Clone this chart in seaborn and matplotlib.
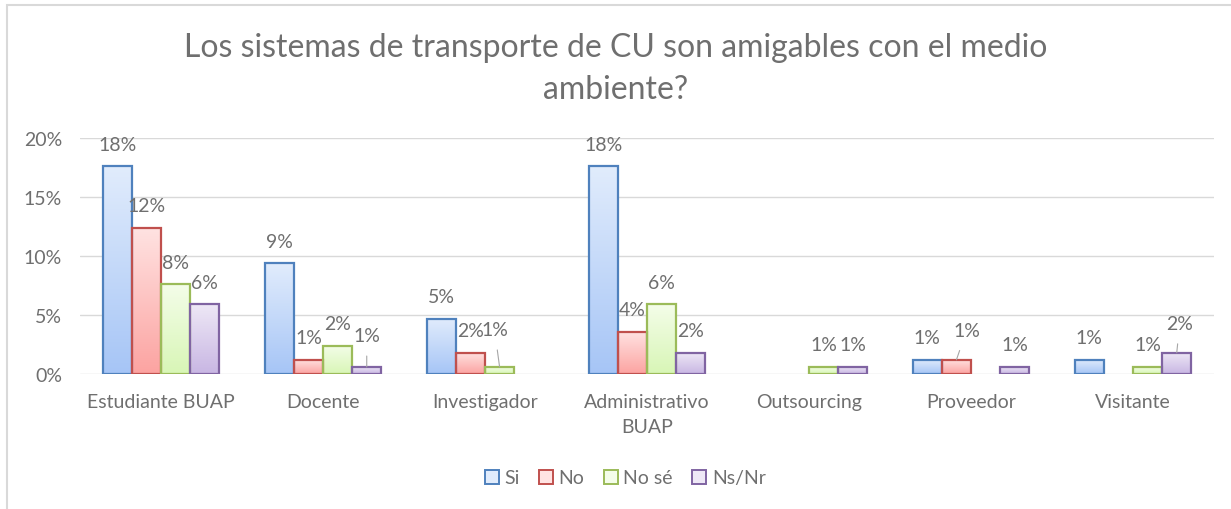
import numpy as np
import pandas as pd
import seaborn as sns
import matplotlib.pyplot as plt
from matplotlib.colors import LinearSegmentedColormap
from matplotlib.patches import Patch, Rectangle

# Data (percent of respondents)
categorias = ['Estudiante BUAP', 'Docente', 'Investigador', 'Administrativo\nBUAP',
              'Outsourcing', 'Proveedor', 'Visitante']
series = ['Si', 'No', 'No sé', 'Ns/Nr']
si = [17.6, 9.4, 4.7, 17.6, 0.0, 1.2, 1.2]
no = [12.4, 1.2, 1.8, 3.6, 0.0, 1.2, 0.0]
no_se = [7.6, 2.4, 0.6, 5.9, 0.6, 0.0, 0.6]
ns_nr = [5.9, 0.6, 0.0, 1.8, 0.6, 0.6, 1.8]
y_ticks = [0, 5, 10, 15, 20]
titulo = 'Los sistemas de transporte de CU son amigables con el medio\nambiente?'

# Excel style colours: edge, gradient top, gradient bottom
edge_colors = ['#4f81bd', '#c0504d', '#9bbb59', '#8064a2']
top_colors = ['#e1ecfc', '#ffe3e2', '#f4fde9', '#eee8f6']
bottom_colors = ['#a6c5f6', '#fca3a1', '#d8f6b6', '#c8b6e3']

# label tweaks (dx px, extra dy px) for the few labels Excel moved, with leader line
label_tweaks = {
    ('Docente', 'Ns/Nr'): (0, 9),
    ('Investigador', 'No sé'): (-5, 15),
    ('Proveedor', 'No'): (10, 7),
    ('Visitante', 'Ns/Nr'): (3, 7),
}

df = pd.DataFrame({'categoria': categorias * 4,
                   'serie': np.repeat(series, len(categorias)),
                   'valor': si + no + no_se + ns_nr})

sns.set_theme(style='white')
plt.rcParams['font.family'] = ['Lato', 'DejaVu Sans']
text_gray = '#6f6f6f'
fs = 14

fig = plt.figure(figsize=(12.31, 5.10), dpi=100)
ax = fig.add_axes([80 / 1231, 1 - 375 / 510, 1134 / 1231, 236 / 510])

sns.barplot(data=df, x='categoria', y='valor', hue='serie', order=categorias,
            hue_order=series, palette=edge_colors, width=0.72, ax=ax,
            legend=False, errorbar=None, saturation=1)

# gradient fill per bar, clipped to the bar
grad = np.linspace(0, 1, 256).reshape(-1, 1)
for i, cont in enumerate(ax.containers):
    cmap = LinearSegmentedColormap.from_list('g%d' % i, [bottom_colors[i], top_colors[i]])
    for j, bar in enumerate(cont.patches):
        h = bar.get_height()
        if h <= 0:
            bar.set_visible(False)
            continue
        bar.set_facecolor('none')
        bar.set_edgecolor(edge_colors[i])
        bar.set_linewidth(1.6)
        bar.set_zorder(3)
        x0 = bar.get_x()
        w = bar.get_width()
        im = ax.imshow(grad, extent=[x0, x0 + w, 0, h], origin='lower', cmap=cmap,
                       aspect='auto', zorder=2.5)
        im.set_clip_path(bar)

        # data label
        label = f'{h:.0f}%'
        key = (categorias[j], series[i])
        dx, extra = label_tweaks.get(key, (0, 0))
        dy = 22 + extra
        arrow = None
        if key in label_tweaks:
            arrow = dict(arrowstyle='-', color='#a6a6a6', lw=0.8, shrinkA=6, shrinkB=0)
        ax.annotate(label, xy=(x0 + w / 2, h), xytext=(dx * 0.72, dy * 0.72),
                    textcoords='offset points', ha='center', va='center',
                    fontsize=fs, color=text_gray, zorder=5, arrowprops=arrow)

ax.set_xlim(-0.5, len(categorias) - 0.5)
ax.set_ylim(0, 20)
ax.set_yticks(y_ticks)
ax.set_yticklabels([f'{t}%' for t in y_ticks])
ax.yaxis.grid(True, color='#d9d9d9', lw=1)
ax.set_axisbelow(True)
for s in ax.spines.values():
    s.set_visible(False)
ax.tick_params(axis='both', length=0, labelsize=fs, colors=text_gray)
ax.tick_params(axis='y', pad=13)
ax.tick_params(axis='x', pad=14)
for t in ax.get_xticklabels():
    t.set_linespacing(1.55)
ax.set_xlabel('')
ax.set_ylabel('')

fig.text(0.5, 1 - 69 / 510, titulo, ha='center', va='center', fontsize=23,
         color=text_gray, linespacing=1.5)

handles = [Patch(facecolor=top_colors[i], edgecolor=edge_colors[i], lw=1.4, label=s)
           for i, s in enumerate(series)]
fig.legend(handles=handles, loc='center', bbox_to_anchor=(0.508, 1 - 479 / 510), ncol=4,
           frameon=False, fontsize=fs, labelcolor=text_gray, handlelength=0.7,
           handleheight=0.7, handletextpad=0.3, columnspacing=1.0)

# light chart border like the Excel chart area
fig.patches.append(Rectangle((7 / 1231, -0.1), 1.2, 1 - 6 / 510 + 0.1,
                             transform=fig.transFigure, fill=False,
                             edgecolor='#d9d9d9', lw=1.5))

fig.savefig('out.png', dpi=100)
